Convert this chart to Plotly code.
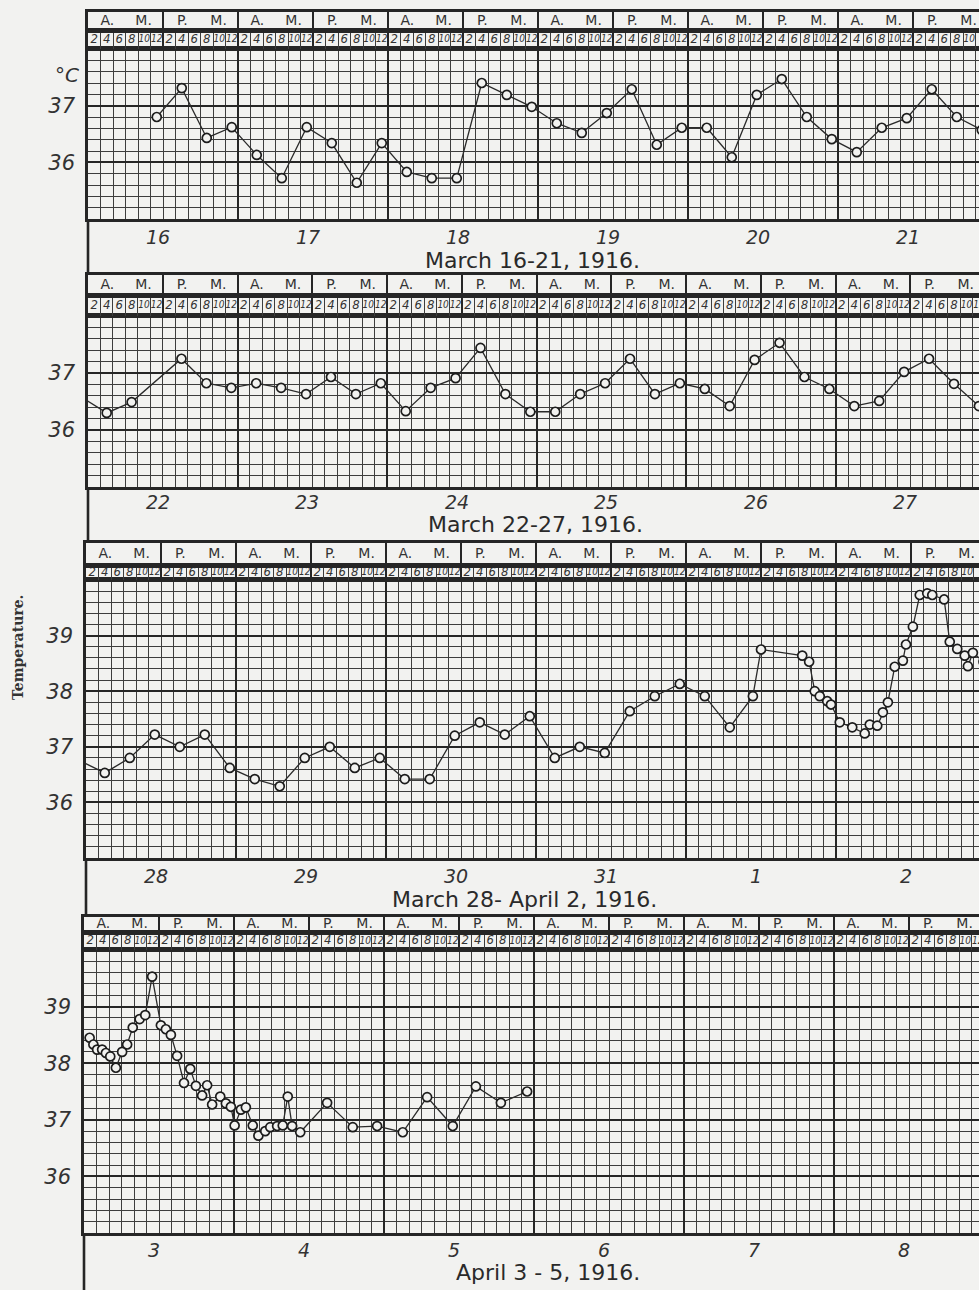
import plotly.graph_objects as go

W, H = 979, 1290

# ---------------- data ----------------
hour_labels = ["2", "4", "6", "8", "10", "12"]
half_labels = [("A.", "M."), ("P.", "M.")]
y_label_unit = "°C"
side_label = "Temperature."

p1_title = "March 16-21, 1916."
p1_days = ["16", "17", "18", "19", "20", "21"]
p1_hours = [11, 15, 19, 23, 27, 31, 35, 39, 43, 47, 51, 55, 59, 63, 67, 71,
            75, 79, 83, 87, 91, 95, 99, 103, 107, 111, 115, 119,
            123, 127, 131, 135, 139, 143]
p1_temps = [36.80, 37.31, 36.43, 36.62, 36.13, 35.72, 36.62, 36.34, 35.64, 36.34,
            35.83, 35.72, 35.72, 37.40, 37.19, 36.98, 36.69, 36.52, 36.87, 37.29,
            36.31, 36.61, 36.61, 36.09, 37.19, 37.47, 36.80, 36.41,
            36.18, 36.61, 36.78, 37.29, 36.80, 36.57]
p1_yticks = [36, 37]

p2_title = "March 22-27, 1916."
p2_days = ["22", "23", "24", "25", "26", "27"]
p2_hours = [-1, 3, 7, 15, 19, 23, 27, 31, 35, 39, 43, 47, 51, 55, 59, 63, 67, 71,
            75, 79, 83, 87, 91, 95, 99, 103, 107, 111, 115, 119,
            123, 127, 131, 135, 139, 143]
p2_temps = [36.57, 36.30, 36.49, 37.25, 36.82, 36.74, 36.82, 36.74, 36.63, 36.93,
            36.63, 36.82, 36.33, 36.74, 36.91, 37.44, 36.63, 36.32,
            36.32, 36.63, 36.82, 37.25, 36.63, 36.82, 36.72, 36.42, 37.23, 37.53,
            36.93, 36.72, 36.42, 36.51, 37.02, 37.25, 36.81, 36.42]
p2_yticks = [36, 37]

p3_title = "March 28- April 2, 1916."
p3_days = ["28", "29", "30", "31", "1", "2"]
p3_hours = [-1, 3, 7, 11, 15, 19, 23, 27, 31, 35, 39, 43, 47, 51, 55, 59, 63, 67, 71,
            75, 79, 83, 87, 91, 95, 99, 103, 106.7, 108,
            114.6, 115.7, 116.6, 117.4, 118.6, 119.2,
            120.6, 122.6, 124.6, 125.4, 126.6, 127.5, 128.3, 129.4, 130.7, 131.2,
            132.3, 133.4, 134.6, 135.4, 137.3, 138.2, 139.4, 140.6, 141.1, 141.9, 143.6]
p3_temps = [36.75, 36.53, 36.8, 37.22, 37.0, 37.22, 36.62, 36.42, 36.29, 36.8, 37.0,
            36.62, 36.8, 36.42, 36.42, 37.2, 37.44, 37.22, 37.55,
            36.8, 37.0, 36.89, 37.64, 37.91, 38.13, 37.91, 37.35, 37.91, 38.75,
            38.64, 38.53, 38.0, 37.91, 37.82, 37.76,
            37.44, 37.35, 37.24, 37.4, 37.38, 37.62, 37.8, 38.44, 38.55, 38.84,
            39.16, 39.73, 39.76, 39.73, 39.65, 38.89, 38.76, 38.64, 38.45, 38.69, 38.53]
p3_yticks = [36, 37, 38, 39]

p4_title = "April 3 - 5, 1916."
p4_days = ["3", "4", "5", "6", "7", "8"]
p4_hours = [0.9, 1.5, 2.1, 2.9, 3.5, 4.2, 5.1, 6.1, 6.9, 7.8, 8.9, 9.8, 10.9, 12.3,
            13.1, 13.9, 14.9, 16.0, 17.0, 17.9, 18.9, 19.7, 20.5, 21.8, 22.7, 23.5,
            24.1, 25.1, 25.9, 27.0, 27.9, 29.0, 29.8, 30.9, 31.8, 32.6, 33.3, 34.6,
            38.9, 43.0, 46.9, 51.0, 54.9, 59.0, 62.7, 66.7, 70.9]
p4_temps = [38.45, 38.33, 38.24, 38.24, 38.18, 38.12, 37.92, 38.2, 38.33, 38.63,
            38.78, 38.85, 39.53, 38.67, 38.6, 38.5, 38.13, 37.65, 37.9, 37.6,
            37.43, 37.61, 37.27, 37.41, 37.29, 37.23, 36.9, 37.18, 37.22, 36.9,
            36.72, 36.8, 36.87, 36.89, 36.9, 37.41, 36.89, 36.78, 37.3, 36.87,
            36.89, 36.78, 37.4, 36.89, 37.59, 37.3, 37.5]
p4_yticks = [36, 37, 38, 39]

# ---------------- layout geometry (pixels) ----------------
geom = [
    dict(left=88, pxh=6.25, top=12, r1=30, r2=49, gb=219, nxt=275, yr=(35, 38),
         dly=237, ty=260, tx=532),
    dict(left=88, pxh=6.23, top=275, r1=295, r2=316, gb=487, nxt=543, yr=(35, 38),
         dly=502, ty=524, tx=535),
    dict(left=86, pxh=6.25, top=543, r1=565, r2=580, gb=858, nxt=917, yr=(35, 40),
         dly=876, ty=899, tx=524),
    dict(left=84, pxh=6.25, top=917, r1=932, r2=950, gb=1233, nxt=1291, yr=(35, 40),
         dly=1250, ty=1272, tx=548),
]
series = [
    (p1_hours, p1_temps, p1_days, p1_title, p1_yticks),
    (p2_hours, p2_temps, p2_days, p2_title, p2_yticks),
    (p3_hours, p3_temps, p3_days, p3_title, p3_yticks),
    (p4_hours, p4_temps, p4_days, p4_title, p4_yticks),
]

BG = "#f2f2f0"
INK = "#262626"
GRID = "#3d3d3d"
FONT = "DejaVu Sans"
NARROW = "DejaVu Sans Condensed, Liberation Sans Narrow, DejaVu Sans"

def fy(py):
    return 1 - py / H

fig = go.Figure()
layout = {}
annotations = []
shapes = []

def names(k):
    s = "" if k == 1 else str(k)
    return "xaxis" + s, "yaxis" + s, "x" + s, "y" + s

k = 0
for p, (g, (hrs, tmps, days, title, yt)) in enumerate(zip(geom, series)):
    xmax = (W - g["left"]) / g["pxh"]
    xdom = [g["left"] / W, 1]
    day_bounds = [24 * i for i in range(1, 7)]
    half_bounds = [12 * i for i in range(1, 13)]

    # ---- grid subplot ----
    k += 1
    xa, ya, xr, yr = names(k)
    layout[xa] = dict(domain=xdom, range=[0, xmax], anchor=yr, tickmode="array",
                      tickvals=day_bounds, showticklabels=False, ticks="",
                      showgrid=True, gridcolor=INK, gridwidth=2.4,
                      minor=dict(dtick=2, tick0=0, showgrid=True, gridcolor=GRID, gridwidth=1),
                      showline=True, mirror=True, linecolor=INK, linewidth=2.6,
                      zeroline=False, fixedrange=True)
    layout[ya] = dict(domain=[fy(g["gb"]), fy(g["r2"])], range=list(g["yr"]), anchor=xr,
                      tickmode="array", tickvals=yt, ticktext=[str(v) for v in yt],
                      tickfont=dict(family=FONT, size=21, color="#333", style="italic"),
                      ticks="", ticklabelstandoff=6,
                      showgrid=True, gridcolor=INK, gridwidth=1.8,
                      minor=dict(dtick=0.2, tick0=35, showgrid=True, gridcolor=GRID, gridwidth=1),
                      showline=True, linecolor=INK, linewidth=2.6, zeroline=False,
                      fixedrange=True)
    fig.add_trace(go.Scatter(x=hrs, y=tmps, xaxis=xr, yaxis=yr, mode="lines+markers",
                             line=dict(color="#2a2a2a", width=1.3),
                             marker=dict(symbol="circle", size=9, color=BG,
                                         line=dict(color="#1c1c1c", width=1.7)),
                             cliponaxis=True, hoverinfo="skip"))

    # ---- header row 2 (hours) ----
    k += 1
    xa, ya, xr, yr = names(k)
    layout[xa] = dict(domain=xdom, range=[0, xmax], anchor=yr, tickmode="array",
                      tickvals=half_bounds, showticklabels=False, ticks="",
                      showgrid=True, gridcolor=INK, gridwidth=2.2,
                      minor=dict(dtick=2, tick0=0, showgrid=True, gridcolor=GRID, gridwidth=1),
                      showline=True, mirror=True, linecolor=INK, linewidth=1.6,
                      zeroline=False, fixedrange=True)
    layout[ya] = dict(domain=[fy(g["r2"]), fy(g["r1"])], range=[0, 1], anchor=xr,
                      showgrid=False, showticklabels=False, ticks="", zeroline=False,
                      showline=True, linecolor=INK, linewidth=2.6, fixedrange=True)
    hx, ht, hs = [], [], []
    for h in range(12):
        for j, lab in enumerate(hour_labels):
            hx.append(12 * h + 2 * j + 1)
            ht.append(lab)
            hs.append(13 if len(lab) == 1 else 10)
    fig.add_trace(go.Scatter(x=hx, y=[0.5] * len(hx), text=ht, mode="text", xaxis=xr, yaxis=yr,
                             textfont=dict(family=NARROW, size=hs, color="#333", style="italic"),
                             cliponaxis=False, hoverinfo="skip"))

    # ---- header row 1 (A.M. / P.M.) ----
    k += 1
    xa, ya, xr, yr = names(k)
    layout[xa] = dict(domain=xdom, range=[0, xmax], anchor=yr, tickmode="array",
                      tickvals=half_bounds, showticklabels=False, ticks="",
                      showgrid=True, gridcolor=INK, gridwidth=2.2,
                      showline=True, mirror=True, linecolor=INK, linewidth=2.6,
                      zeroline=False, fixedrange=True)
    layout[ya] = dict(domain=[fy(g["r1"]), fy(g["top"])], range=[0, 1], anchor=xr,
                      showgrid=False, showticklabels=False, ticks="", zeroline=False,
                      showline=True, linecolor=INK, linewidth=2.6, fixedrange=True)
    ax_, at_ = [], []
    for d in range(6):
        for hh, (a, m) in enumerate(half_labels):
            ax_ += [24 * d + 12 * hh + 3.1, 24 * d + 12 * hh + 8.9]
            at_ += [a, m]
    fig.add_trace(go.Scatter(x=ax_, y=[0.5] * len(ax_), text=at_, mode="text", xaxis=xr, yaxis=yr,
                             textfont=dict(family=FONT, size=14, color="#333"),
                             cliponaxis=False, hoverinfo="skip"))

    # ---- day labels, title, band border ----
    gx = "x" if (3 * p + 1) == 1 else "x" + str(3 * p + 1)
    for d, lab in enumerate(days):
        annotations.append(dict(x=24 * d + 11.2, y=fy(g["dly"]), xref=gx, yref="paper",
                                xanchor="center", yanchor="middle",
                                text=lab, showarrow=False,
                                font=dict(family=FONT, size=19, color="#333", style="italic")))
    annotations.append(dict(x=g["tx"] / W, y=fy(g["ty"]), xref="paper", yref="paper",
                            xanchor="center", yanchor="middle",
                            text=title, showarrow=False,
                            font=dict(family=FONT, size=22, color="#2a2a2a")))
    shapes.append(dict(type="line", xref="paper", yref="paper",
                       x0=g["left"] / W, x1=g["left"] / W, y0=fy(g["nxt"]), y1=fy(g["gb"]),
                       line=dict(color=INK, width=2.6)))

annotations.append(dict(x=67 / W, y=fy(75), xref="paper", yref="paper", text=y_label_unit,
                        xanchor="center", yanchor="middle", showarrow=False,
                        font=dict(family=FONT, size=20, color="#333", style="italic")))
annotations.append(dict(x=18 / W, y=fy(648), xref="paper", yref="paper", text=side_label,
                        xanchor="center", yanchor="middle",
                        textangle=-90, showarrow=False,
                        font=dict(family="DejaVu Serif", size=14, color="#333", weight="bold")))

fig.update_layout(width=W, height=H, autosize=False, margin=dict(l=0, r=0, t=0, b=0),
                  paper_bgcolor=BG, plot_bgcolor=BG, showlegend=False,
                  annotations=annotations, shapes=shapes, **layout)

fig.write_html("out.html", config={"displayModeBar": False},
               post_script="document.body.style.margin='0';document.body.style.padding='0';")
